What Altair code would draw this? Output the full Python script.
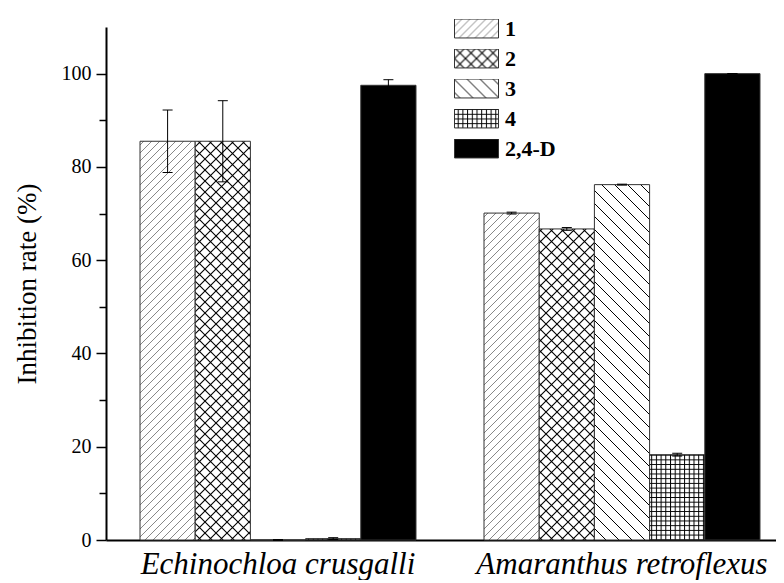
import jinja2
import altair as alt
import pandas as pd

# ---------------- data ----------------
species = ["Echinochloa crusgalli", "Amaranthus retroflexus"]
compounds = ["1", "2", "3", "4", "2,4-D"]
echinochloa_values = [85.5, 85.5, 0.0, 0.3, 97.5]
echinochloa_errors = [6.7, 8.7, 0.1, 0.2, 1.2]
amaranthus_values = [70.1, 66.7, 76.2, 18.3, 100.0]
amaranthus_errors = [0.2, 0.3, 0.1, 0.3, 0.0]
y_ticks = [0, 10, 20, 30, 40, 50, 60, 70, 80, 90, 100]

rows = []
for sp, vals, errs in [
    (species[0], echinochloa_values, echinochloa_errors),
    (species[1], amaranthus_values, amaranthus_errors),
]:
    for c, v, e in zip(compounds, vals, errs):
        rows.append({"species": sp, "compound": c, "value": v, "err": e})
df = pd.DataFrame(rows)

# fills: SVG patterns defined in the page template below
fills = ["url(#hatch1)", "url(#hatch2)", "url(#hatch3)", "url(#hatch4)", "#000000"]

SERIF = "Liberation Serif"
YTITLE = "Inhibition rate (%)"

x_enc = alt.X(
    "species:N",
    sort=species,
    scale=alt.Scale(domain=species, paddingInner=0.1047, paddingOuter=0.02616, align=1),
    axis=alt.Axis(
        title=None, labelAngle=0, ticks=False, tickSize=0, labelPadding=9,
        labelFont=SERIF, labelFontSize=31, labelFontStyle="italic", labelLimit=0,
        labelColor="black", domainColor="black", domainWidth=2,
    ),
)
xo_enc = alt.XOffset(
    "compound:N",
    sort=compounds,
    scale=alt.Scale(domain=compounds, paddingInner=0, paddingOuter=0.2899),
)
y_scale = alt.Scale(domain=[0, 110], nice=False, zero=True)
y_axis = alt.Axis(
    title=YTITLE, values=y_ticks, grid=False,
    labelExpr="datum.value % 20 === 0 ? datum.label : ''",
    tickSize={"condition": {"test": "datum.value % 20 === 0", "value": 10}, "value": 7},
    tickColor="black", tickWidth=1.5, domainColor="black", domainWidth=2,
    labelFont=SERIF, labelFontSize=20, labelColor="black", labelPadding=5,
    titleFont=SERIF, titleFontSize=27, titleFontWeight="normal",
    titleColor="black", titlePadding=20,
)

base = alt.Chart(df)

bars = base.mark_bar(stroke="#333333", strokeWidth=1).encode(
    x=x_enc,
    xOffset=xo_enc,
    y=alt.Y("value:Q", scale=y_scale, axis=y_axis),
    fill=alt.Fill(
        "compound:N",
        sort=compounds,
        scale=alt.Scale(domain=compounds, range=fills),
        legend=alt.Legend(
            title=None, orient="none", legendX=348, legendY=-8,
            symbolType="M-1,-0.43L1,-0.43L1,0.43L-1,0.43Z", symbolSize=1936,
            symbolStrokeColor="#333333", symbolStrokeWidth=1, symbolOpacity=1,
            labelFont=SERIF, labelFontSize=22, labelFontWeight="bold",
            labelColor="black", labelOffset=6, rowPadding=7, clipHeight=19,
        ),
    ),
)

err_base = base.transform_calculate(
    lo="datum.value - datum.err", hi="datum.value + datum.err"
)
err_rule = err_base.mark_rule(color="black", strokeWidth=1).encode(
    x=x_enc, xOffset=xo_enc,
    y=alt.Y("lo:Q", scale=y_scale, axis=y_axis), y2="hi:Q",
)
cap_lo = err_base.mark_tick(color="black", thickness=1, size=10, opacity=1).encode(
    x=x_enc, xOffset=xo_enc, y=alt.Y("lo:Q", scale=y_scale, axis=y_axis),
)
cap_hi = err_base.mark_tick(color="black", thickness=1, size=10, opacity=1).encode(
    x=x_enc, xOffset=xo_enc, y=alt.Y("hi:Q", scale=y_scale, axis=y_axis),
)

chart = (
    alt.layer(bars, err_rule, cap_lo, cap_hi)
    .properties(
        width=670, height=513,
        autosize=alt.AutoSizeParams(type="none"),
        padding={"left": 98, "top": 19, "right": 0, "bottom": 40},
        background="white",
    )
    .configure_view(stroke=None)
)

TEMPLATE = jinja2.Template("""<!DOCTYPE html>
<html>
<head>
  <meta charset="utf-8">
  <style>
    #{{ output_div }}.vega-embed { width: 100%; display: flex; }
    #{{ output_div }}.vega-embed details,
    #{{ output_div }}.vega-embed details summary { position: relative; }
  </style>
  <script type="text/javascript" src="{{ base_url }}/vega@{{ vega_version }}"></script>
  <script type="text/javascript" src="{{ base_url }}/vega-lite@{{ vegalite_version }}"></script>
  <script type="text/javascript" src="{{ base_url }}/vega-embed@{{ vegaembed_version }}"></script>
</head>
<body>
  <svg width="0" height="0" style="position:absolute;left:0;top:0" aria-hidden="true">
    <defs>
      <pattern id="hatch1" patternUnits="userSpaceOnUse" width="8" height="8">
        <rect width="8" height="8" fill="white"/>
        <path d="M-2,2 L2,-2 M0,8 L8,0 M6,10 L10,6" stroke="#7a7a7a" stroke-width="0.9"/>
      </pattern>
      <pattern id="hatch2" patternUnits="userSpaceOnUse" width="11" height="11">
        <rect width="11" height="11" fill="white"/>
        <path d="M-1,-1 L12,12 M12,-1 L-1,12" stroke="black" stroke-width="1.1"/>
      </pattern>
      <pattern id="hatch3" patternUnits="userSpaceOnUse" width="13" height="13">
        <rect width="13" height="13" fill="white"/>
        <path d="M-1,-1 L14,14 M-2,11 L2,15 M11,-2 L15,2" stroke="black" stroke-width="1"/>
      </pattern>
      <pattern id="hatch4" patternUnits="userSpaceOnUse" width="4.7" height="4.7">
        <rect width="4.7" height="4.7" fill="white"/>
        <path d="M0.5,0 V4.7 M0,0.5 H4.7" stroke="black" stroke-width="1"/>
      </pattern>
    </defs>
  </svg>
  <div id="{{ output_div }}"></div>
  <script>
    (function(vegaEmbed) {
      var spec = {{ spec }};
      var embedOpt = {{ embed_options }};
      function showError(el, error){
        el.innerHTML = ('<div style="color:red;"><p>JavaScript Error: ' + error.message + '</p></div>');
        throw error;
      }
      const el = document.getElementById('{{ output_div }}');
      vegaEmbed("#{{ output_div }}", spec, embedOpt).catch(error => showError(el, error));
    })(vegaEmbed);
  </script>
</body>
</html>
""")

chart.save("out.html", embed_options={"renderer": "svg", "actions": False}, template=TEMPLATE)
